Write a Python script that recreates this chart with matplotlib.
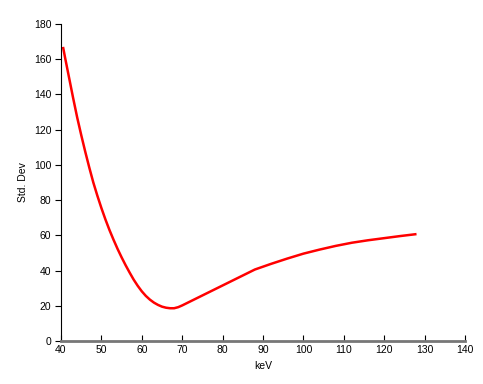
import matplotlib
matplotlib.use("Agg")
import matplotlib.pyplot as plt

kev = [40.5, 41, 42, 43, 44, 45, 46, 47, 48, 49, 50, 51, 52, 53, 54, 55, 56, 57, 58, 59,
       60, 61, 62, 63, 64, 65, 66, 67, 68, 69, 70,
       88, 92, 96, 100, 104, 108, 112, 116, 120, 124, 128]
std_dev = [167, 161, 149.5, 138, 127, 117, 107.5, 98.5, 90, 82.5, 75.5, 69, 63, 57.5, 52.3, 47.5, 43, 38.8, 34.8, 31.3,
           28.2, 25.6, 23.5, 21.8, 20.5, 19.5, 18.9, 18.6, 18.6, 19.2, 20.2,
           40.6, 43.8, 46.8, 49.6, 51.9, 54.0, 55.8, 57.2, 58.4, 59.6, 60.7]
x_ticks = [40, 50, 60, 70, 80, 90, 100, 110, 120, 130, 140]
y_ticks = [0, 20, 40, 60, 80, 100, 120, 140, 160, 180]

plt.rcParams['font.family'] = ['Liberation Sans', 'DejaVu Sans']

fig = plt.figure(figsize=(4.83, 3.84), dpi=100)
ax = fig.add_axes([61/483, 1 - 341/384, (465-61)/483, (341-24)/384])
ax.plot(kev, std_dev, color='#ff0000', lw=1.8, solid_capstyle='butt', solid_joinstyle='round')
ax.set_xlim(40, 140)
ax.set_ylim(0, 180)
ax.set_xticks(x_ticks)
ax.set_yticks(y_ticks)
for s in ['top', 'right']:
    ax.spines[s].set_visible(False)
ax.spines['left'].set_color('black')
ax.spines['left'].set_linewidth(0.8)
ax.spines['bottom'].set_color('#777777')
ax.spines['bottom'].set_linewidth(2)
ax.tick_params(axis='x', direction='in', length=4, width=0.8, labelsize=7.5, pad=3)
ax.tick_params(axis='y', direction='out', length=4, width=0.8, labelsize=7.5, pad=3)
ax.set_xlabel('keV', fontsize=7.5, labelpad=4)
ax.set_ylabel('Std. Dev', fontsize=7.5, labelpad=4)
fig.savefig('out.png', dpi=100)
